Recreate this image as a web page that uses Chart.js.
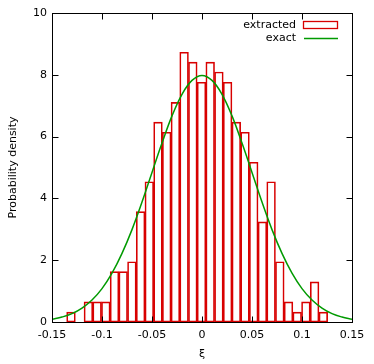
<!DOCTYPE html>
<html>
<head>
<meta charset="utf-8">
<script src="https://cdn.jsdelivr.net/npm/chart.js@4/dist/chart.umd.min.js"></script>
<style>
  html, body { margin: 0; padding: 0; background: #fff; }
  #wrap { width: 374px; height: 364px; }
</style>
</head>
<body>
<div id="wrap"><canvas id="myChart" width="374" height="364"></canvas></div>
<script>
// histogram bin centres and heights
const binCentres = [-0.1310, -0.1223, -0.1136, -0.1049, -0.0962, -0.0875, -0.0788, -0.0701, -0.0614, -0.0527,
    -0.0440, -0.0353, -0.0266, -0.0179, -0.0092, -0.0005, 0.0082, 0.0169, 0.0256, 0.0343,
    0.0430, 0.0517, 0.0604, 0.0691, 0.0778, 0.0865, 0.0952, 0.1039, 0.1126, 0.1213];
const binHeights = [0.32, 0, 0.65, 0.65, 0.65, 1.63, 1.63, 1.95, 3.57, 4.54,
    6.47, 6.14, 7.11, 8.73, 8.41, 7.76, 8.41, 8.09, 7.76, 6.47,
    6.14, 5.17, 3.24, 4.54, 1.95, 0.65, 0.32, 0.65, 1.30, 0.32];

// exact curve
const curveX = [-0.15, -0.14, -0.13, -0.12, -0.11, -0.10, -0.09, -0.08, -0.07, -0.06, -0.05, -0.04, -0.03, -0.02, -0.01, 0,
    0.01, 0.02, 0.03, 0.04, 0.05, 0.06, 0.07, 0.08, 0.09, 0.10, 0.11, 0.12, 0.13, 0.14, 0.15];
const curveY = [0.09, 0.16, 0.27, 0.45, 0.71, 1.08, 1.58, 2.22, 2.99, 3.88, 4.84, 5.79, 6.67, 7.37, 7.82, 7.98,
    7.82, 7.37, 6.67, 5.79, 4.84, 3.88, 2.99, 2.22, 1.58, 1.08, 0.71, 0.45, 0.27, 0.16, 0.09];

const xTicks = [-0.15, -0.1, -0.05, 0, 0.05, 0.1, 0.15];
const yTicks = [0, 2, 4, 6, 8, 10];

const RED = '#d80000';
const GREEN = '#009a00';
const FONT = { family: 'DejaVu Sans', size: 11 };

// frame, inward ticks on all four sides, and the legend
const framePlugin = {
    id: 'frame',
    afterDraw(chart) {
        const c = chart.ctx;
        const a = chart.chartArea;
        const xs = chart.scales.x, ys = chart.scales.y;
        const L = Math.round(a.left) + 0.5, R = Math.round(a.right) + 0.5;
        const T = Math.round(a.top) + 0.5, B = Math.round(a.bottom) + 0.5;
        c.save();
        c.strokeStyle = '#000';
        c.lineWidth = 1;
        c.beginPath();
        xTicks.forEach(v => {
            const px = Math.round(xs.getPixelForValue(v)) + 0.5;
            c.moveTo(px, B); c.lineTo(px, B - 6);
            c.moveTo(px, T); c.lineTo(px, T + 6);
        });
        yTicks.forEach(v => {
            const py = Math.round(ys.getPixelForValue(v)) + 0.5;
            c.moveTo(L, py); c.lineTo(L + 6, py);
            c.moveTo(R, py); c.lineTo(R - 6, py);
        });
        c.stroke();
        c.strokeRect(L, T, R - L, B - T);

        // legend
        c.font = '11px "DejaVu Sans"';
        c.fillStyle = '#000';
        c.textAlign = 'right';
        c.textBaseline = 'middle';
        c.fillText('extracted', 296, 25);
        c.fillText('exact', 296, 38.5);
        c.strokeStyle = RED;
        c.lineWidth = 1.3;
        c.strokeRect(303.5, 21.5, 34, 7);
        c.strokeStyle = GREEN;
        c.lineWidth = 1.5;
        c.beginPath();
        c.moveTo(304, 38.5); c.lineTo(338, 38.5);
        c.stroke();
        c.restore();
    }
};

const ctx = document.getElementById('myChart').getContext('2d');
const myChart = new Chart(ctx, {
    type: 'bar',
    data: {
        datasets: [
            {
                type: 'line',
                label: 'exact',
                data: curveX.map((x, i) => ({ x: x, y: curveY[i] })),
                borderColor: GREEN,
                borderWidth: 1.5,
                pointRadius: 0,
                tension: 0.4,
                fill: false,
                order: 0,
            },
            {
                type: 'bar',
                label: 'extracted',
                data: binCentres.map((x, i) => ({ x: x, y: binHeights[i] })),
                backgroundColor: 'rgba(255,255,255,0)',
                borderColor: RED,
                borderWidth: 1,
                borderSkipped: false,
                barPercentage: 1,
                categoryPercentage: 1,
                order: 1,
            },
        ],
    },
    options: {
        responsive: false,
        animation: false,
        devicePixelRatio: 1,
        layout: { padding: { top: 13, right: 22, left: 0, bottom: 0 } },
        plugins: { legend: { display: false }, tooltip: { enabled: false } },
        scales: {
            x: {
                type: 'linear',
                min: -0.15,
                max: 0.15,
                offset: false,
                grid: { display: false, drawTicks: false },
                border: { display: false },
                afterFit: s => { s.height = 42; },
                afterBuildTicks: s => { s.ticks = xTicks.map(v => ({ value: v })); },
                ticks: {
                    font: FONT,
                    color: '#000',
                    padding: 7,
                    maxRotation: 0,
                    callback: v => String(Math.round(v * 100) / 100),
                },
                title: { display: true, text: 'ξ', font: FONT, color: '#000', padding: { top: 0, bottom: 3 } },
            },
            y: {
                min: 0,
                max: 10,
                grid: { display: false, drawTicks: false },
                border: { display: false },
                afterFit: s => { s.width = 52; },
                afterBuildTicks: s => { s.ticks = yTicks.map(v => ({ value: v })); },
                ticks: { font: FONT, color: '#000', padding: 5 },
                title: { display: true, text: 'Probability density', font: FONT, color: '#000', padding: { top: 7, bottom: 0 } },
            },
        },
    },
    plugins: [framePlugin],
});
</script>
</body>
</html>
